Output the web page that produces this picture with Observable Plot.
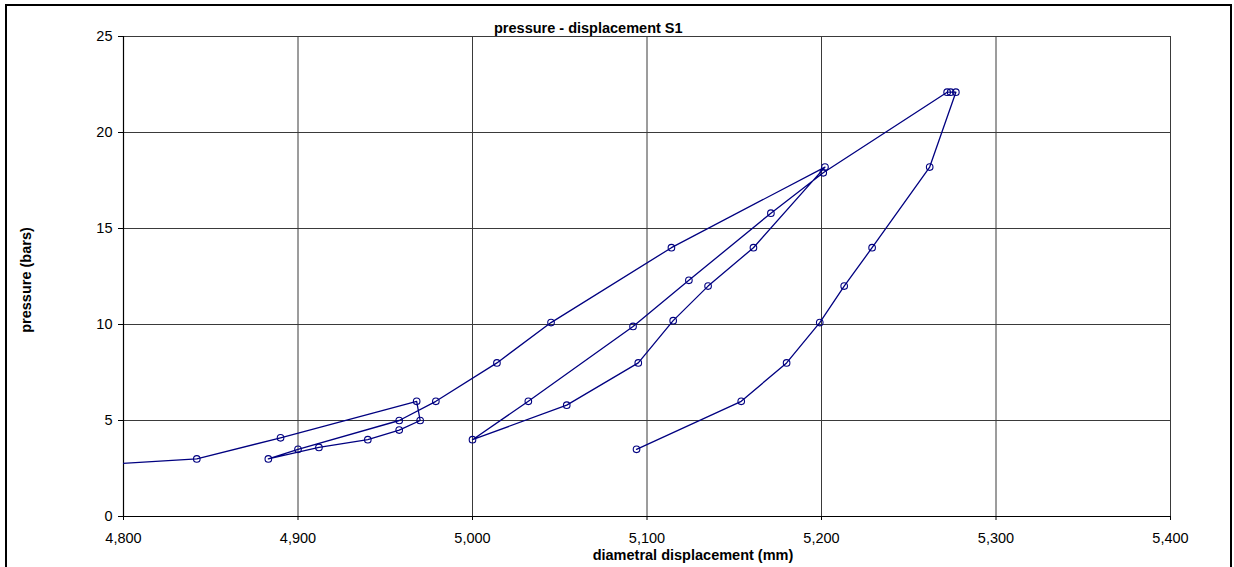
<!DOCTYPE html>
<html>
<head>
<meta charset="utf-8">
<script src="https://cdn.jsdelivr.net/npm/d3@7"></script>
<script src="https://cdn.jsdelivr.net/npm/@observablehq/plot@0.6"></script>
<style>
  html, body { margin: 0; padding: 0; background: #fff; }
  #wrap { position: relative; width: 1234px; height: 567px; overflow: hidden;
          font-family: "Liberation Sans", Arial, sans-serif; color: #000; }
  #wrap svg { position: absolute; left: 0; top: 0; }
  .lbl { position: absolute; font-weight: bold; font-size: 14.5px; line-height: 16px; white-space: nowrap; }
  #frame { position: absolute; left: 5px; top: 4px; width: 1227px; height: 580px;
           border: 2px solid #000; box-sizing: border-box; pointer-events: none; }
</style>
</head>
<body>
<div id="wrap">
  <div id="frame"></div>
</div>
<script>
// Chart text
const titleText = "pressure - displacement S1";
const xLabel = "diametral displacement (mm)";
const yLabel = "pressure (bars)";

// Axis ticks
const xTicks = [4800, 4900, 5000, 5100, 5200, 5300, 5400];
const yTicks = [0, 5, 10, 15, 20, 25];

// Measured series, in recording order (first point lies left of the visible axis)
const displacement = [4760, 4842, 4890, 4968, 4970, 4958, 4940, 4912, 4883, 4900,
                      4958, 4979, 5014, 5045, 5114, 5202, 5161, 5135, 5115, 5095,
                      5054, 5000, 5032, 5092, 5124, 5171, 5201, 5272, 5274, 5277,
                      5262, 5229, 5213, 5199, 5180, 5154, 5094];
const pressure = [2.55, 3.0, 4.1, 6.0, 5.0, 4.5, 4.0, 3.6, 3.0, 3.5,
                  5.0, 6.0, 8.0, 10.1, 14.0, 18.2, 14.0, 12.0, 10.2, 8.0,
                  5.8, 4.0, 6.0, 9.9, 12.3, 15.8, 17.9, 22.1, 22.1, 22.1,
                  18.2, 14.0, 12.0, 10.1, 8.0, 6.0, 3.5];

const data = displacement.map((d, i) => ({x: d, y: pressure[i]}));
const navy = "#000080";

const chart = Plot.plot({
  width: 1234,
  height: 567,
  marginLeft: 123,
  marginRight: 64,
  marginTop: 36,
  marginBottom: 51,
  style: {fontFamily: "'Liberation Sans', Arial, sans-serif", fontSize: "14.5px", color: "#000", background: "transparent"},
  x: {domain: [4800, 5400]},
  y: {domain: [0, 25]},
  marks: [
    Plot.gridX(xTicks.slice(1), {stroke: "#3a3a3a", strokeOpacity: 1, strokeWidth: 1}),
    Plot.gridY(yTicks.slice(1), {stroke: "#3a3a3a", strokeOpacity: 1, strokeWidth: 1}),
    Plot.ruleY([0], {stroke: "#000", strokeWidth: 1.2}),
    Plot.ruleX([4800], {stroke: "#000", strokeWidth: 1.2}),
    Plot.axisX({ticks: xTicks, tickFormat: d3.format(","), tickSize: 4, tickPadding: 12, label: null, fontSize: 14.5}),
    Plot.axisY({ticks: yTicks, tickSize: 5, tickPadding: 6, label: null, fontSize: 14.5}),
    Plot.line(data, {x: "x", y: "y", stroke: navy, strokeWidth: 1.3, clip: true}),
    Plot.dot(data, {x: "x", y: "y", r: 3.3, stroke: navy, strokeWidth: 1.1, fill: "none", clip: true})
  ]
});

const wrap = document.getElementById("wrap");
wrap.insertBefore(chart, wrap.firstChild);

function addLabel(text, css) {
  const d = document.createElement("div");
  d.className = "lbl";
  d.textContent = text;
  Object.assign(d.style, css);
  wrap.appendChild(d);
}
addLabel(titleText, {left: "494px", top: "20px"});
addLabel(xLabel, {left: "693px", top: "547px", transform: "translateX(-50%)"});
addLabel(yLabel, {left: "26px", top: "280px", transform: "translate(-50%, -50%) rotate(-90deg)"});
</script>
</body>
</html>
